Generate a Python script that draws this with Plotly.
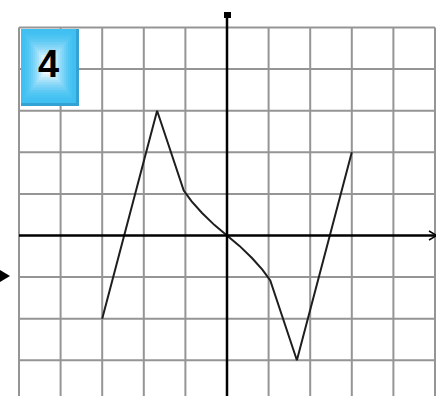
import plotly.graph_objects as go

# graph of the function (1 unit = 1 square)
fx = [-3, -1.68, -1.04, -0.85, -0.6, -0.3, 0, 0.3, 0.6, 0.85, 1.04, 1.68, 3]
fy = [-2, 3, 1.08, 0.82, 0.54, 0.25, 0, -0.25, -0.54, -0.82, -1.08, -3, 2]

grid_x = list(range(-5, 6))
grid_y = list(range(-3, 6))
badge_text = "4"

W, H = 436, 396
U = 41.6          # pixels per unit
OX, OY = 227, 235.5  # pixel position of the origin

xr = [-OX / U, (W - OX) / U]
yr = [(OY - H) / U, OY / U]


def px(x):
    return x / W


def py(y):
    return 1 - y / H


shapes = []
grid = dict(color="#959595", width=2)
for gx in grid_x:
    if gx == 0:
        continue
    shapes.append(dict(type="line", x0=gx, x1=gx, y0=yr[0], y1=5, line=grid, layer="below"))
for gy in grid_y:
    if gy == 0:
        continue
    shapes.append(dict(type="line", x0=-5, x1=5, y0=gy, y1=gy, line=grid, layer="below"))

axis = dict(color="black", width=2.5)
shapes.append(dict(type="line", x0=-5, x1=xr[1], y0=0, y1=0, line=axis))
shapes.append(dict(type="line", x0=0, x1=0, y0=yr[0], y1=(OY - 13) / U, line=axis))
# arrow heads
shapes.append(dict(type="rect", xref="paper", yref="paper",
                   x0=px(224), x1=px(231), y0=py(18), y1=py(12),
                   fillcolor="black", line=dict(width=0)))
shapes.append(dict(type="path", xref="paper", yref="paper",
                   path="M %f %f L %f %f L %f %f Z" % (px(0), py(270), px(10), py(276), px(0), py(282)),
                   fillcolor="black", line=dict(width=0)))
shapes.append(dict(type="path", xref="paper", yref="paper",
                   path="M %f %f L %f %f M %f %f L %f %f" % (px(429), py(231), px(436), py(235), px(429), py(240), px(436), py(236)),
                   line=dict(color="black", width=1.5)))

# badge with a blue gradient
shapes.append(dict(type="rect", xref="paper", yref="paper",
                   x0=px(21), x1=px(79), y0=py(106), y1=py(29),
                   fillcolor="#35a2d4", line=dict(width=0)))
edge = (64, 192, 242)
centre = (236, 250, 255)
steps = 12
for i in range(steps):
    t = i / (steps - 1)
    c = tuple(int(edge[k] + (centre[k] - edge[k]) * t ** 1.7) for k in range(3))
    ix = 1 + i * 2.0
    iy = 1 + i * 2.6
    shapes.append(dict(type="rect", xref="paper", yref="paper",
                       x0=px(20 + ix), x1=px(77 - ix), y0=py(104 - iy), y1=py(28 + iy),
                       fillcolor="rgb(%d,%d,%d)" % c, line=dict(width=0)))

fig = go.Figure()
fig.add_trace(go.Scatter(x=fx, y=fy, mode="lines",
                         line=dict(color="#1e1e1e", width=2),
                         hoverinfo="skip", showlegend=False))

fig.add_annotation(x=px(48.5), y=py(64), xref="paper", yref="paper",
                   xanchor="center", yanchor="middle",
                   text="<b>%s</b>" % badge_text, showarrow=False,
                   font=dict(family="Liberation Sans, Arial", size=38, color="black"))

fig.update_layout(
    width=W, height=H,
    margin=dict(l=0, r=0, t=0, b=0),
    paper_bgcolor="white", plot_bgcolor="white",
    shapes=shapes,
    xaxis=dict(range=xr, visible=False, fixedrange=True),
    yaxis=dict(range=yr, visible=False, fixedrange=True),
)

fig.write_html("out.html", config={"displayModeBar": False},
               post_script="document.body.style.margin='0px';")
